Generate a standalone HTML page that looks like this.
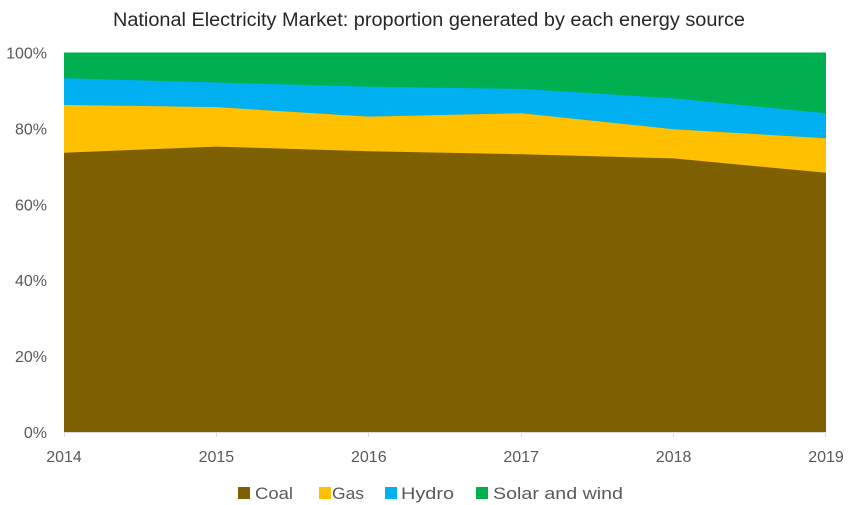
<!DOCTYPE html>
<html>
<head>
<meta charset="utf-8">
<style>
html,body{margin:0;padding:0;background:#fff;}
svg{display:block;}
text{font-family:"Liberation Sans",Arial,sans-serif;}
</style>
</head>
<body>
<svg width="850" height="505" viewBox="0 0 850 505" xmlns="http://www.w3.org/2000/svg">
<rect width="850" height="505" fill="#fff"/>
<text x="429" y="26" font-size="19" fill="#262626" text-anchor="middle" textLength="632" lengthAdjust="spacingAndGlyphs">National Electricity Market: proportion generated by each energy source</text>

<!-- Solar and wind (full) -->
<rect x="64" y="52.5" width="762" height="379.5" fill="#00B050"/>
<!-- Hydro -->
<polygon fill="#00B0F0" points="64,432 64,78.3 216.4,82.5 368.8,86.7 521.2,88.9 673.6,98.4 826,113.2 826,432"/>
<!-- Gas -->
<polygon fill="#FFC000" points="64,432 64,104.9 216.4,107.1 368.8,116.6 521.2,113.2 673.6,129.2 826,138.3 826,432"/>
<!-- Coal -->
<polygon fill="#7F6000" points="64,432 64,152.7 216.4,146.6 368.8,151.2 521.2,154.2 673.6,158.4 826,172.8 826,432"/>

<!-- x axis -->
<line x1="64" y1="432.5" x2="826" y2="432.5" stroke="#d9d9d9" stroke-width="1"/>
<g stroke="#d9d9d9" stroke-width="1">
<line x1="64.5" y1="432" x2="64.5" y2="437"/>
<line x1="216.5" y1="432" x2="216.5" y2="437"/>
<line x1="368.5" y1="432" x2="368.5" y2="437"/>
<line x1="521.5" y1="432" x2="521.5" y2="437"/>
<line x1="673.5" y1="432" x2="673.5" y2="437"/>
<line x1="825.5" y1="432" x2="825.5" y2="437"/>
</g>

<!-- y labels -->
<g font-size="16" fill="#595959" text-anchor="end">
<text x="47" y="58.5">100%</text>
<text x="47" y="134.4">80%</text>
<text x="47" y="210.3">60%</text>
<text x="47" y="286.2">40%</text>
<text x="47" y="362.1">20%</text>
<text x="47" y="438">0%</text>
</g>

<!-- x labels -->
<g font-size="16" fill="#595959" text-anchor="middle">
<text x="64" y="462">2014</text>
<text x="216.4" y="462">2015</text>
<text x="368.8" y="462">2016</text>
<text x="521.2" y="462">2017</text>
<text x="673.6" y="462">2018</text>
<text x="826" y="462">2019</text>
</g>

<!-- legend -->
<rect x="238" y="487" width="12" height="12" fill="#7F6000"/>
<text x="255" y="499" font-size="17" fill="#595959" textLength="38" lengthAdjust="spacingAndGlyphs">Coal</text>
<rect x="319" y="487" width="12" height="12" fill="#FFC000"/>
<text x="332" y="499" font-size="17" fill="#595959" textLength="32" lengthAdjust="spacingAndGlyphs">Gas</text>
<rect x="385" y="487" width="12" height="12" fill="#00B0F0"/>
<text x="401" y="499" font-size="17" fill="#595959" textLength="53" lengthAdjust="spacingAndGlyphs">Hydro</text>
<rect x="476" y="487" width="12" height="12" fill="#00B050"/>
<text x="493" y="499" font-size="17" fill="#595959" textLength="130" lengthAdjust="spacingAndGlyphs">Solar and wind</text>
</svg>
</body>
</html>
